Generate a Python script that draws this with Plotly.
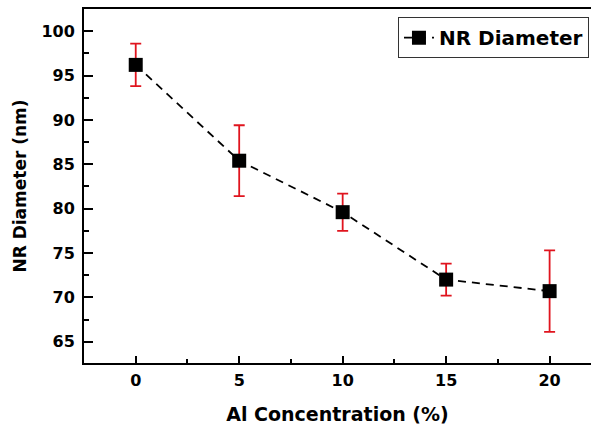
import plotly.graph_objects as go

# Al doping level (%) vs. nanorod diameter (nm) with standard deviation
al_concentration = [0, 5, 10, 15, 20]
nr_diameter = [96.2, 85.4, 79.6, 72.0, 70.7]
nr_diameter_err = [2.4, 4.0, 2.1, 1.8, 4.6]
x_tick_values = [0, 5, 10, 15, 20]
y_tick_values = [65, 70, 75, 80, 85, 90, 95, 100]

FONT = "DejaVu Sans"

fig = go.Figure()
fig.add_trace(go.Scatter(
    x=al_concentration,
    y=nr_diameter,
    mode="lines+markers",
    name="NR Diameter",
    line=dict(color="black", width=1.8, dash="8px,6px"),
    marker=dict(symbol="square", size=14, color="black"),
    error_y=dict(type="data", array=nr_diameter_err, visible=True,
                 color="#e0141e", thickness=1.8, width=5.5),
))

fig.update_layout(
    width=591,
    height=425,
    margin=dict(l=84, r=0, t=9, b=62),
    paper_bgcolor="white",
    plot_bgcolor="white",
    font=dict(family=FONT, color="black"),
    showlegend=True,
    legend=dict(
        x=0.996, y=0.977, xanchor="right", yanchor="top",
        bgcolor="white", bordercolor="#333", borderwidth=1,
        font=dict(family=FONT, size=20, color="black", weight="bold"),
        itemwidth=30, tracegroupgap=0,
    ),
    xaxis=dict(
        range=[-2.5, 22],
        tickvals=x_tick_values,
        ticks="inside", ticklen=7, tickwidth=2, tickcolor="black",
        minor=dict(dtick=2.5, tick0=0, ticks="inside", ticklen=4,
                   tickwidth=2, tickcolor="black"),
        showline=True, linewidth=2, linecolor="black", mirror=True,
        showgrid=False, zeroline=False,
        ticklabelstandoff=2,
        tickfont=dict(family=FONT, size=16, color="black", weight="bold"),
        title=dict(text="Al Concentration (%)", standoff=19,
                   font=dict(family=FONT, size=19, color="black", weight="bold")),
    ),
    yaxis=dict(
        range=[62.6, 102.5],
        tickvals=y_tick_values,
        ticks="inside", ticklen=9, tickwidth=2, tickcolor="black",
        minor=dict(dtick=2.5, tick0=65, ticks="inside", ticklen=5,
                   tickwidth=2, tickcolor="black"),
        showline=True, linewidth=2, linecolor="black",
        showgrid=False, zeroline=False,
        ticklabelstandoff=4,
        tickfont=dict(family=FONT, size=16, color="black", weight="bold"),
        title=dict(text="NR Diameter (nm)", standoff=10,
                   font=dict(family=FONT, size=17, color="black", weight="bold")),
    ),
)

fig.write_html("out.html")
